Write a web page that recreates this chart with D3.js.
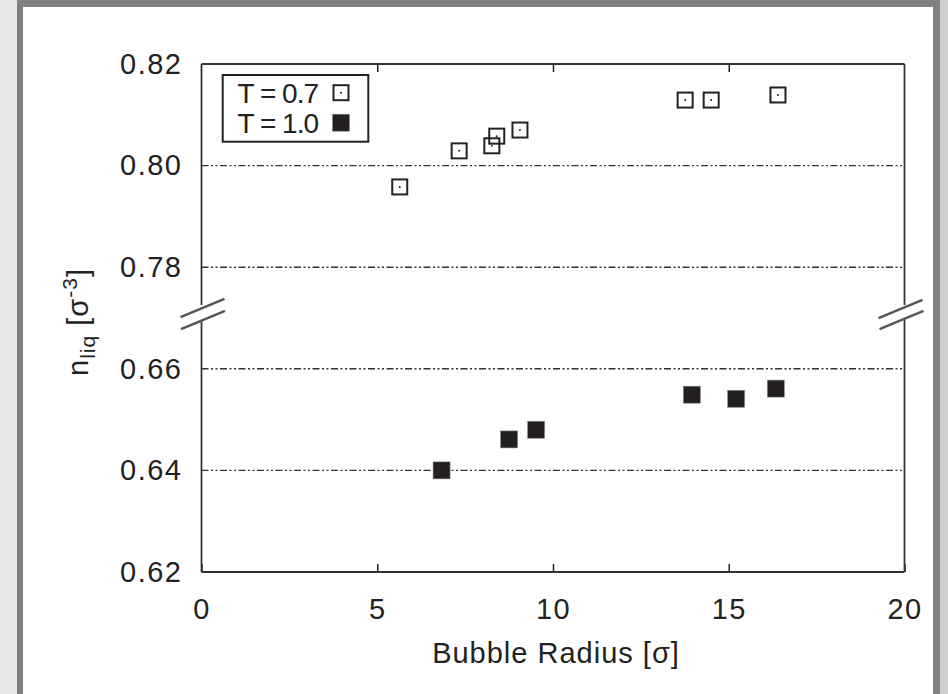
<!DOCTYPE html>
<html>
<head>
<meta charset="utf-8">
<script src="https://cdn.jsdelivr.net/npm/d3@7"></script>
<style>
	body { margin: 0; background: #e6e6e6; }
	svg { display: block; font-family: "Liberation Sans", Arial, Helvetica, sans-serif; }
</style>
</head>
<body>
<svg id="chart" width="948" height="694"></svg>
<script>
// values
const xTicks = [0, 5, 10, 15, 20];
const yTicksUpper = [0.78, 0.80, 0.82];
const yTicksLower = [0.62, 0.64, 0.66];
const gridValues = [0.80, 0.78, 0.66, 0.64];

const radiusT07 = [5.64, 7.33, 8.26, 8.40, 9.06, 13.76, 14.50, 16.40];
const nliqT07 = [0.7958, 0.8029, 0.8039, 0.8058, 0.8070, 0.8129, 0.8129, 0.8139];
const radiusT10 = [6.83, 8.75, 9.52, 13.95, 15.21, 16.34];
const nliqT10 = [0.6400, 0.6461, 0.6480, 0.6549, 0.6541, 0.6561];

const legendLabels = ["T = 0.7", "T = 1.0"];

let svg = d3.select("#chart");
let ink = "#222";

// slide frame
svg.append("rect").attr("x", 17).attr("y", 0).attr("width", 923).attr("height", 694).attr("fill", "#808080");
svg.append("rect").attr("x", 940).attr("y", 0).attr("width", 8).attr("height", 694).attr("fill", "#cfcfcf");
svg.append("rect").attr("x", 23).attr("y", 7).attr("width", 910).attr("height", 687).attr("fill", "#fff");

let plotL = 201.5, plotR = 904.5, plotT = 64, plotB = 572, breakY = 318;

let x = d3.scaleLinear().domain([0, 20]).range([plotL, plotR]);
let yTop = d3.scaleLinear().domain([0.77, 0.82]).range([breakY, plotT]);
let yBot = d3.scaleLinear().domain([0.62, 0.67]).range([plotB, breakY]);
function y(v) { return v > 0.72 ? yTop(v) : yBot(v); }

let g = svg.append("g");

// dash-dot-dot grid lines
g.selectAll(".grid")
	.data(gridValues)
	.enter()
	.append("line")
	.attr("class", "grid")
	.attr("x1", plotL).attr("x2", plotR)
	.attr("y1", d => y(d)).attr("y2", d => y(d))
	.attr("stroke", "#333")
	.attr("stroke-width", 1.4)
	.attr("stroke-dasharray", "7,2.5,2,2.5,2,2.5");

// x axis (inward ticks)
g.append("g")
	.attr("transform", "translate(0," + plotB + ")")
	.call(d3.axisBottom(x).tickValues(xTicks).tickSizeInner(-8).tickSizeOuter(0).tickPadding(26))
	.call(a => a.select(".domain").remove());

g.append("g")
	.attr("transform", "translate(0," + plotT + ")")
	.call(d3.axisTop(x).tickValues(xTicks.slice(1, -1)).tickSizeInner(-8).tickSizeOuter(0).tickFormat(""))
	.call(a => a.select(".domain").remove());

// y axes, two pieces
[[yTop, yTicksUpper], [yBot, yTicksLower]].forEach(function (p) {
	g.append("g")
		.attr("transform", "translate(" + plotL + ",0)")
		.call(d3.axisLeft(p[0]).tickValues(p[1]).tickSize(0).tickPadding(19).tickFormat(d3.format(".2f")))
		.call(a => a.select(".domain").remove());
});

g.selectAll(".tick line").attr("stroke", ink).attr("stroke-width", 1.5);
g.selectAll(".tick text").attr("fill", ink)
	.style("font-size", "29px").style("letter-spacing", "1.5px").style("font-family", "inherit");

// frame with axis break gap
let frame = [
	[plotL, plotT, plotR, plotT],
	[plotL, plotB, plotR, plotB],
	[plotL, plotT, plotL, breakY - 13],
	[plotL, breakY + 2, plotL, plotB],
	[plotR, plotT, plotR, breakY - 13],
	[plotR, breakY + 2, plotR, plotB]
];
g.selectAll(".frame")
	.data(frame)
	.enter()
	.append("line")
	.attr("x1", d => d[0]).attr("y1", d => d[1])
	.attr("x2", d => d[2]).attr("y2", d => d[3])
	.attr("stroke", "#333")
	.attr("stroke-width", 1.8);

// break marks
let slashes = [[plotL + 1, breakY - 10], [plotL + 1.5, breakY + 2], [plotR - 4, breakY - 9], [plotR - 3, breakY + 2]];
g.selectAll(".slash")
	.data(slashes)
	.enter()
	.append("line")
	.attr("x1", d => d[0] - 22).attr("y1", d => d[1] + 9.2)
	.attr("x2", d => d[0] + 22).attr("y2", d => d[1] - 9.2)
	.attr("stroke", "#555")
	.attr("stroke-width", 2.4);

// data
let t07 = radiusT07.map((r, i) => ({ r: r, n: nliqT07[i] }));
let t10 = radiusT10.map((r, i) => ({ r: r, n: nliqT10[i] }));

function openSquare(sel) {
	sel.append("rect")
		.attr("x", -7.5).attr("y", -7.5).attr("width", 15).attr("height", 15)
		.attr("fill", "none").attr("stroke", ink).attr("stroke-width", 2);
	sel.append("circle").attr("r", 1).attr("fill", ink);
}
function filledSquare(sel) {
	sel.append("rect")
		.attr("x", -8.5).attr("y", -8.5).attr("width", 17).attr("height", 17)
		.attr("fill", "#231f20").attr("stroke", "#888").attr("stroke-width", 0.6);
}

g.selectAll(".p07")
	.data(t07)
	.enter()
	.append("g")
	.attr("transform", d => "translate(" + x(d.r) + "," + y(d.n) + ")")
	.call(openSquare);

g.selectAll(".p10")
	.data(t10)
	.enter()
	.append("g")
	.attr("transform", d => "translate(" + x(d.r) + "," + y(d.n) + ")")
	.call(filledSquare);

// legend
let legend = svg.append("g");
legend.append("rect")
	.attr("x", 222.7).attr("y", 75).attr("width", 145.6).attr("height", 66.7)
	.attr("fill", "#fff").attr("stroke", ink).attr("stroke-width", 2);
legend.selectAll(".lt")
	.data(legendLabels)
	.enter()
	.append("text")
	.attr("x", 318)
	.attr("y", (d, i) => 103 + i * 30)
	.attr("text-anchor", "end")
	.attr("fill", ink)
	.style("font-size", "28px")
	.style("letter-spacing", "-1px")
	.text(d => d);
legend.append("g").attr("transform", "translate(341,92.7)").call(openSquare);
legend.append("g").attr("transform", "translate(341,122.7)").call(filledSquare);

// axis titles
svg.append("text")
	.attr("x", (plotL + plotR) / 2 + 3)
	.attr("y", 663)
	.attr("text-anchor", "middle")
	.attr("fill", ink)
	.style("font-size", "29px")
	.style("letter-spacing", "1px")
	.text("Bubble Radius [σ]");

let yt = svg.append("text")
	.attr("transform", "translate(88," + (breakY + 4) + ") rotate(-90)")
	.attr("text-anchor", "middle")
	.attr("fill", ink)
	.style("font-size", "29px")
	.style("letter-spacing", "1px");
yt.append("tspan").text("n");
yt.append("tspan").attr("dy", 7).style("font-size", "21px").text("liq");
yt.append("tspan").attr("dy", -7).text(" [σ");
yt.append("tspan").attr("dy", -11).style("font-size", "21px").text("-3");
yt.append("tspan").attr("dy", 11).text("]");
</script>
</body>
</html>
